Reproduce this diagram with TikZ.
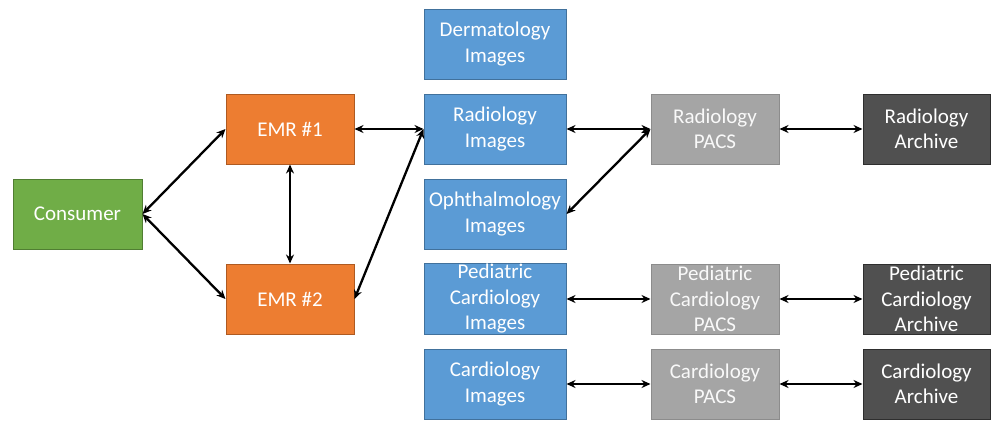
\documentclass[tikz,border=0pt]{standalone}
\usepackage{fontspec}
\setmainfont{Carlito}
\usetikzlibrary{arrows.meta}
\definecolor{consumergreen}{HTML}{70AD47}
\definecolor{consumeredge}{HTML}{507E32}
\definecolor{emrorange}{HTML}{ED7D31}
\definecolor{emredge}{HTML}{AE5A21}
\definecolor{imgblue}{HTML}{5B9BD5}
\definecolor{imgedge}{HTML}{41719C}
\definecolor{pacsgray}{HTML}{A5A5A5}
\definecolor{pacsedge}{HTML}{8C8C8C}
\definecolor{archdark}{HTML}{505050}
\definecolor{archedge}{HTML}{2E2E2E}
\begin{document}
\begin{tikzpicture}[x=1pt,y=-1pt,font=\fontsize{21}{25.5}\selectfont,
    link/.style={{Stealth[length=9pt,width=8pt]}-{Stealth[length=9pt,width=8pt]}, line width=2.3pt}]
      \tikzstyle{box}=[draw,line width=1pt,inner sep=1pt,minimum height=70pt,align=center,text=white]
      \tikzstyle{consumer box}=[box,fill=consumergreen,draw=consumeredge,minimum width=129pt]
      \tikzstyle{emr box}=[box,fill=emrorange,draw=emredge,minimum width=128pt]
      \tikzstyle{image box}=[box,fill=imgblue,draw=imgedge,minimum width=142pt]
      \tikzstyle{pacs box}=[box,fill=pacsgray,draw=pacsedge,minimum width=128pt,text=white!95!gray]
      \tikzstyle{archive box}=[box,fill=archdark,draw=archedge,minimum width=127pt]
      \useasboundingbox (0,0) rectangle (992,421);

      % sources
      \node(consumer)[consumer box] at (77.5,214){Consumer};
      \node(emr1)[emr box] at (290,129){EMR \#1};
      \node(emr2)[emr box] at (290,299){EMR \#2};

      % image stores
      \node(derm)[image box] at (495,44){Dermatology\\Images};
      \node(rad)[image box] at (495,129){Radiology\\Images};
      \node(oph)[image box] at (495,214){Ophthalmology\\Images};
      \node(ped)[image box] at (495,299){Pediatric\\Cardiology\\Images};
      \node(card)[image box] at (495,384){Cardiology\\Images};

      % PACS
      \node(radpacs)[pacs box] at (715,129){Radiology\\PACS};
      \node(pedpacs)[pacs box] at (715,299){Pediatric\\Cardiology\\PACS};
      \node(cardpacs)[pacs box] at (715,384){Cardiology\\PACS};

      % archives
      \node(radarch)[archive box] at (926.5,129){Radiology\\Archive};
      \node(pedarch)[archive box] at (926.5,299){Pediatric\\Cardiology\\Archive};
      \node(cardarch)[archive box] at (926.5,384){Cardiology\\Archive};

      % connections
      \draw[link] (consumer.east) -- (emr1.west);
      \draw[link] (consumer.east) -- (emr2.west);
      \draw[link,line width=1.6pt] (emr1.south) -- (emr2.north);
      \draw[link] (emr1.east) -- (rad.west);
      \draw[link] (emr2.east) -- (rad.west);
      \draw[link] (rad.east) -- (radpacs.west);
      \draw[link] (oph.east) -- (radpacs.west);
      \draw[link] (ped.east) -- (pedpacs.west);
      \draw[link] (card.east) -- (cardpacs.west);
      \draw[link] (radpacs.east) -- (radarch.west);
      \draw[link] (pedpacs.east) -- (pedarch.west);
      \draw[link] (cardpacs.east) -- (cardarch.west);
\end{tikzpicture}
\end{document}
